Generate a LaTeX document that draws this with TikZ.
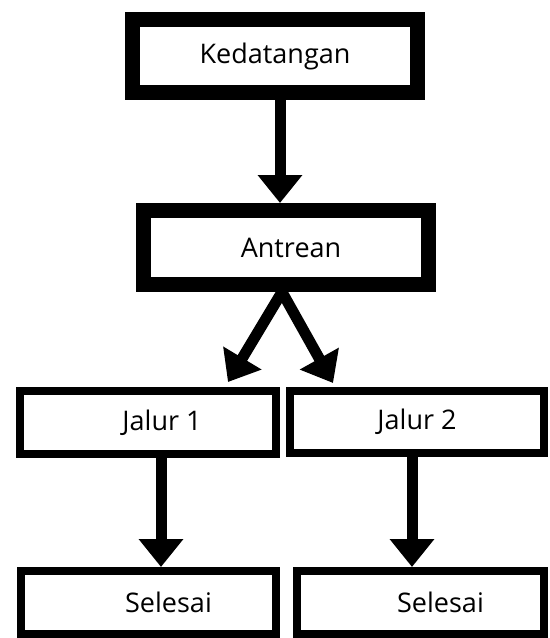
\documentclass[tikz,border=0pt]{standalone}
\usepackage{fontspec}
\setmainfont{Open Sans}
\usepackage{tikz}
\usetikzlibrary{arrows.meta}

\begin{document}
\begin{tikzpicture}[x=0.5pt, y=-0.5pt,
  bigbox/.style={rectangle, draw, line width=7.5pt, inner sep=0pt, font=\fontsize{13.5}{16}\selectfont},
  smallbox/.style={rectangle, draw, line width=4pt, inner sep=0pt, font=\fontsize{13.5}{16}\selectfont},
  arr/.style={line width=5.5pt, -{Triangle[width=21.5pt,length=14pt]}}]
\useasboundingbox (0,0) rectangle (550,638);

\node[bigbox, minimum width=142.5pt, minimum height=36.5pt] (K) at (275,56) {Kedatangan};
\node[bigbox, minimum width=142.5pt, minimum height=37pt] (A) at (286,247.5) {\hspace*{5pt}Antrean};
\node[smallbox, minimum width=128pt, minimum height=31.5pt] (J1) at (148,422.5) {\hspace*{14pt}Jalur 1};
\node[smallbox, minimum width=127pt, minimum height=31pt] (J2) at (417,422) {Jalur 2};
\node[smallbox, minimum width=127.5pt, minimum height=31.5pt] (S1) at (148.5,602.5) {\hspace*{20pt}Selesai};
\node[smallbox, minimum width=123.5pt, minimum height=31.5pt] (S2) at (420.5,602.5) {\hspace*{20pt}Selesai};

\coordinate (T1) at (228,382);
\coordinate (T2) at (333,383);

\draw[arr] ([shift={(5,0)}]K.south) -- ([shift={(-6,0)}]A.north);
\draw[arr] ([shift={(-4,0)}]A.south) -- (T1);
\draw[arr] ([shift={(-4,0)}]A.south) -- (T2);
\draw[arr] ([shift={(13,0)}]J1.south) -- ([shift={(12.5,0)}]S1.north);
\draw[arr] ([shift={(-5,0)}]J2.south) -- ([shift={(-8.5,0)}]S2.north);
\end{tikzpicture}
\end{document}
